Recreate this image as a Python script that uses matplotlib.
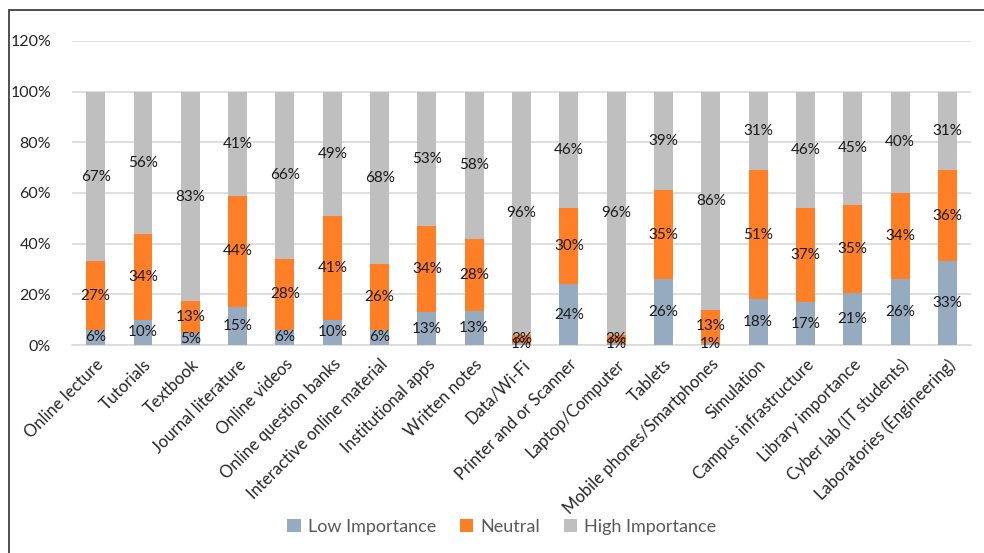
# Stacked importance ratings per resource
import matplotlib.pyplot as plt
from matplotlib.patches import Rectangle

plt.rcParams['font.family'] = ['Lato', 'DejaVu Sans']

categories = ["Online lecture", "Tutorials", "Textbook", "Journal literature",
              "Online videos", "Online question banks", "Interactive online material",
              "Institutional apps", "Written notes", "Data/Wi-Fi", "Printer and or Scanner",
              "Laptop/Computer", "Tablets", "Mobile phones/Smartphones", "Simulation",
              "Campus infrastructure", "Library importance", "Cyber lab (IT students)",
              "Laboratories (Engineering)"]

low = [6, 10, 4.6, 15, 6, 10, 6, 13, 13.4, 1, 24, 1, 26, 1, 18, 17, 20.6, 26, 33]
neutral = [27, 34, 12.6, 44, 28, 41, 26, 34, 28.3, 3, 30, 3, 35, 13, 51, 37, 34.6, 34, 36]
high = [67, 56, 82.8, 41, 66, 49, 68, 53, 58.3, 96, 46, 96, 39, 86, 31, 46, 44.8, 40, 31]

c_low = "#97abc0"
c_neu = "#ff7f27"
c_high = "#bfbfbf"

fig = plt.figure(figsize=(9.84, 5.53), dpi=100)
ax = fig.add_axes([0.0732, 0.376, 0.9136, 0.550])

x = range(len(categories))
w = 0.4
b1 = ax.bar(x, low, w, color=c_low, label="Low Importance", zorder=3)
b2 = ax.bar(x, neutral, w, bottom=low, color=c_neu, label="Neutral", zorder=3)
bottom2 = [a + b for a, b in zip(low, neutral)]
b3 = ax.bar(x, high, w, bottom=bottom2, color=c_high, label="High Importance", zorder=3)

for bars in (b1, b2, b3):
    ax.bar_label(bars, labels=[f"{v:.0f}%" for v in bars.datavalues],
                 label_type="center", fontsize=11, color="#1a1a1a", zorder=4)

ax.set_xlim(-0.5, len(categories) - 0.5)
ax.set_ylim(0, 120)
ax.set_yticks(range(0, 121, 20))
ax.set_yticklabels([f"{v}%" for v in range(0, 121, 20)], fontsize=11.5, color="#262626")
ax.yaxis.grid(True, color="#d9d9d9", linewidth=1.2, zorder=0)
ax.tick_params(axis="y", length=0, pad=15)
ax.tick_params(axis="x", length=0, pad=8)
ax.set_xticks(list(x))
ax.set_xticklabels(categories, rotation=45, ha="right", va="top",
                   rotation_mode="anchor", fontsize=12, color="#262626")
for s in ("top", "right", "left"):
    ax.spines[s].set_visible(False)
ax.spines["bottom"].set_color("#d9d9d9")
ax.spines["bottom"].set_linewidth(1.2)

fig.legend(loc="center", bbox_to_anchor=(0.51, 0.047), ncol=3, frameon=False,
           fontsize=13, labelcolor="#595959", handlelength=0.75, handleheight=0.75,
           handletextpad=0.4, columnspacing=1.3)

# outer chart border, right and bottom edges fall outside the image
fig.patches.append(Rectangle((9 / 984, -0.05), 1.1, 1 - 10 / 553 + 0.05,
                             transform=fig.transFigure, fill=False,
                             edgecolor="#404040", linewidth=1.3))

fig.savefig("out.png", dpi=100)
